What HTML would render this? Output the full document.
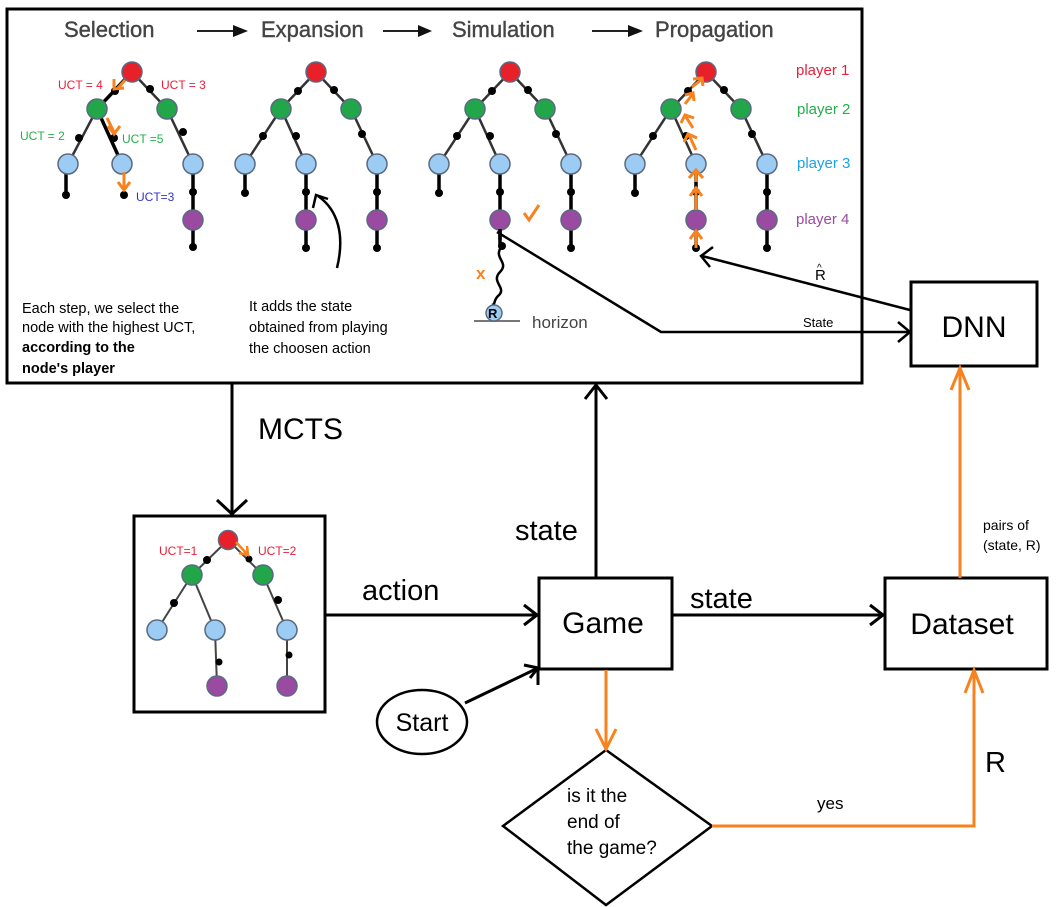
<!DOCTYPE html>
<html><head><meta charset="utf-8"><style>
html,body{margin:0;padding:0;background:#fff;}
svg{display:block;font-family:"Liberation Sans",Arial,sans-serif;}
</style></head><body>
<svg width="1058" height="907" viewBox="0 0 1058 907" xmlns="http://www.w3.org/2000/svg">
<defs>
<g id="edges" stroke="#333" stroke-width="2.5" fill="none">
<line x1="0" y1="0" x2="-35" y2="37"/><line x1="0" y1="0" x2="35" y2="37"/>
<line x1="-35" y1="37" x2="-71" y2="92"/><line x1="-35" y1="37" x2="-10" y2="92"/>
<line x1="35" y1="37" x2="61" y2="92"/>
</g>
<g id="tree">
<use href="#edges"/>
<g stroke="#000" stroke-width="3.5">
<line x1="-71" y1="92" x2="-71" y2="121"/>
<line x1="-10" y1="92" x2="-10" y2="176"/>
<line x1="61" y1="92" x2="61" y2="176"/>
</g>
<g fill="#000">
<circle cx="-18" cy="19" r="4"/><circle cx="18" cy="18" r="4"/>
<circle cx="-53" cy="64" r="4"/><circle cx="-20" cy="64" r="4"/><circle cx="46" cy="62" r="4"/>
<circle cx="-71" cy="121" r="4"/><circle cx="-10" cy="120" r="4"/><circle cx="61" cy="120" r="4"/>
<circle cx="-10" cy="176" r="4"/><circle cx="61" cy="176" r="4"/>
</g>
<g stroke="#5a6a80" stroke-width="1.5">
<circle cx="0" cy="0" r="10" fill="#e8202a"/>
<circle cx="-35" cy="37" r="10" fill="#22a64a"/><circle cx="35" cy="37" r="10" fill="#22a64a"/>
<circle cx="-71" cy="92" r="10" fill="#9ccbf3"/><circle cx="-10" cy="92" r="10" fill="#9ccbf3"/><circle cx="61" cy="92" r="10" fill="#9ccbf3"/>
<circle cx="-10" cy="148" r="10" fill="#9b4aa2"/><circle cx="61" cy="148" r="10" fill="#9b4aa2"/>
</g>
</g>
</defs>

<rect x="7" y="9" width="855" height="374" fill="none" stroke="#000" stroke-width="3"/>
<g font-size="22" fill="#444" stroke="#444" stroke-width="0.4">
<text x="64" y="37">Selection</text>
<text x="261" y="37">Expansion</text>
<text x="452" y="37">Simulation</text>
<text x="655" y="37">Propagation</text>
</g>
<g stroke="#222" stroke-width="2"><line x1="197" y1="31" x2="235" y2="31"/><line x1="383" y1="31" x2="420" y2="31"/><line x1="592" y1="31" x2="630" y2="31"/></g>
<g fill="#111"><polygon points="233,25 248,31 233,37"/><polygon points="418,25 432,31 418,37"/><polygon points="628,25 643,31 628,37"/></g>

<g transform="translate(132,72)">
<g stroke="#333" stroke-width="2.5"><line x1="0" y1="0" x2="35" y2="37"/><line x1="-35" y1="37" x2="-64" y2="92"/><line x1="35" y1="37" x2="61" y2="92"/></g>
<g stroke="#000" stroke-width="3.5"><line x1="0" y1="0" x2="-35" y2="37"/><line x1="-35" y1="37" x2="-10" y2="92"/><line x1="-66" y1="92" x2="-66" y2="123"/><line x1="61" y1="92" x2="61" y2="176"/></g>
<g fill="#000"><circle cx="-17" cy="19" r="4"/><circle cx="18" cy="17" r="4"/><circle cx="-53" cy="66" r="4"/><circle cx="-18" cy="66" r="4"/><circle cx="51" cy="60" r="4"/><circle cx="-66" cy="123" r="4"/><circle cx="-8" cy="123" r="4"/><circle cx="61" cy="120" r="4"/><circle cx="61" cy="175" r="4"/></g>
<g stroke="#5a6a80" stroke-width="1.5">
<circle cx="0" cy="0" r="10" fill="#e8202a"/><circle cx="-35" cy="37" r="10" fill="#22a64a"/><circle cx="35" cy="37" r="10" fill="#22a64a"/>
<circle cx="-64" cy="92" r="10" fill="#9ccbf3"/><circle cx="-10" cy="92" r="10" fill="#9ccbf3"/><circle cx="61" cy="92" r="10" fill="#9ccbf3"/>
<circle cx="61" cy="148" r="10" fill="#9b4aa2"/></g>
<g stroke="#f7821e" stroke-width="3" fill="none">
<path d="M-7,8 L-14,16 M-18,7 L-18,17 L-8,16"/>
<path d="M-25,46 L-18,60 M-24,54 L-18,62 L-12,54"/>
<path d="M-8,100 L-8,118 M-14,110 L-8,118 L-2,110"/>
</g>
</g>
<g font-size="12"><text x="58" y="89" fill="#e8203a">UCT = 4</text><text x="161" y="89" fill="#e8203a">UCT = 3</text>
<text x="20" y="140" fill="#22b04a">UCT = 2</text><text x="122" y="143" fill="#22b04a">UCT =5</text>
<text x="136" y="201" fill="#3333cc">UCT=3</text></g>

<use href="#tree" transform="translate(316,72)"/>
<path d="M337,268 C345,235 338,210 318,196" fill="none" stroke="#000" stroke-width="2.5"/>
<path d="M313,208 L316,195 L328,199" fill="none" stroke="#000" stroke-width="2.5"/>
<use href="#tree" transform="translate(510,72)"/>
<use href="#tree" transform="translate(706,72)"/>

<g fill="#fff"><rect x="490" y="240" width="20" height="12"/></g>
<line x1="500" y1="229" x2="500" y2="246" stroke="#000" stroke-width="3.5"/>
<circle cx="502" cy="246" r="4"/>
<path d="M502,246 C492,258 510,262 500,272 C490,282 508,288 498,296 C493,301 496,304 492,305" fill="none" stroke="#000" stroke-width="2.5"/>
<line x1="474" y1="321" x2="520" y2="321" stroke="#777" stroke-width="2"/>
<circle cx="494" cy="313" r="8" fill="#9ccbf3" stroke="#5a6a80" stroke-width="1.5"/>
<text x="488" y="318" font-size="13" font-weight="bold">R</text>
<text x="532" y="328" font-size="17" fill="#444">horizon</text>
<text x="476" y="279" font-size="17" fill="#f7821e" font-weight="bold">x</text>
<path d="M524,213 L529,220 L539,205" fill="none" stroke="#f7821e" stroke-width="3"/>
<g stroke="#f7821e" stroke-width="3" fill="none">
<path d="M696,248 L696,232 M690,239 L696,231 L702,239"/>
<path d="M696,210 L696,189 M690,196 L696,188 L702,196"/>
<path d="M696,182 L696,172 M689,178 L696,170 L703,178"/>
<path d="M696,150 L689,135 M684,142 L688,134 L697,138"/>
<path d="M693,128 L686,117 M681,123 L685,115 L694,118"/>
<path d="M685,104 L692,95 M685,95 L693,93 L694,101"/>
<path d="M692,87 L701,80 M693,79 L702,78 L703,86"/>
</g>

<g font-size="15"><text x="796" y="75" fill="#e8203a">player 1</text><text x="797" y="114" fill="#22b04a">player 2</text>
<text x="797" y="168" fill="#1aa3e8">player 3</text><text x="796" y="224" fill="#9b4aa2">player 4</text></g>

<g font-size="14.5" fill="#000">
<text x="22" y="313">Each step, we select the</text>
<text x="22" y="332">node with the highest UCT,</text>
<text x="22" y="352" font-weight="bold">according to the</text>
<text x="22" y="373" font-weight="bold">node's player</text>
<text x="249" y="311">It adds the state</text>
<text x="249" y="332">obtained from playing</text>
<text x="249" y="353">the choosen action</text>
</g>

<g stroke="#000" stroke-width="2.5" fill="none">
<polyline points="497,232 661,332 910,332"/>
<path d="M898,322 L910,332 L898,342"/>
<line x1="910" y1="310" x2="702" y2="256"/>
<path d="M713,247 L701,256 L710,267"/>
</g>
<text x="803" y="327" font-size="13">State</text>
<text x="815" y="280" font-size="15">R</text><text x="817" y="271" font-size="10">^</text>

<rect x="911" y="282" width="126" height="84" fill="none" stroke="#000" stroke-width="3"/>
<text x="974" y="337" font-size="30" text-anchor="middle">DNN</text>

<g stroke="#000" stroke-width="3" fill="none">
<line x1="232" y1="384" x2="232" y2="514"/><path d="M217,500 L232,514 L247,500"/>
<line x1="596" y1="577" x2="596" y2="385"/><path d="M585,399 L596,385 L607,399"/>
<line x1="325" y1="615" x2="537" y2="615"/><path d="M524,605 L537,615 L524,625"/>
<line x1="672" y1="615" x2="883" y2="615"/><path d="M870,605 L883,615 L870,625"/>
<line x1="465" y1="703" x2="538" y2="668"/><path d="M524,665 L538,668 L530,678"/>
<line x1="538" y1="668" x2="538" y2="685"/>
</g>
<text x="258" y="439" font-size="30">MCTS</text>
<text x="515" y="540" font-size="29">state</text>
<text x="362" y="600" font-size="29">action</text>
<text x="690" y="608" font-size="29">state</text>

<rect x="134" y="516" width="191" height="196" fill="none" stroke="#000" stroke-width="3"/>
<g transform="translate(228,540)">
<g stroke="#444" stroke-width="2"><line x1="0" y1="0" x2="-36" y2="35"/><line x1="0" y1="0" x2="35" y2="35"/><line x1="-36" y1="35" x2="-71" y2="90"/><line x1="-36" y1="35" x2="-13" y2="90"/><line x1="35" y1="35" x2="59" y2="90"/><line x1="-13" y1="90" x2="-11" y2="146"/><line x1="59" y1="90" x2="59" y2="146"/></g>
<g fill="#000"><circle cx="-21" cy="20" r="4"/><circle cx="21" cy="19" r="3.5"/><circle cx="-54" cy="63" r="4"/><circle cx="50" cy="60" r="4"/><circle cx="-9" cy="122" r="3.5"/><circle cx="61" cy="115" r="3.5"/></g>
<g stroke="#5a6a80" stroke-width="1.5">
<circle cx="0" cy="0" r="9.5" fill="#e8202a"/><circle cx="-36" cy="35" r="10" fill="#22a64a"/><circle cx="35" cy="35" r="10" fill="#22a64a"/>
<circle cx="-71" cy="90" r="10" fill="#9ccbf3"/><circle cx="-13" cy="90" r="10" fill="#9ccbf3"/><circle cx="59" cy="90" r="10" fill="#9ccbf3"/>
<circle cx="-11" cy="146" r="10" fill="#9b4aa2"/><circle cx="59" cy="146" r="10" fill="#9b4aa2"/></g>
<path d="M8,2 L19,14 M11,13 L20,15 L19,6" stroke="#f7821e" stroke-width="2.5" fill="none"/>
</g>
<g font-size="12" fill="#e8203a"><text x="159" y="555">UCT=1</text><text x="258" y="555">UCT=2</text></g>

<rect x="539" y="578" width="133" height="91" fill="none" stroke="#000" stroke-width="3"/>
<text x="603" y="633" font-size="30" text-anchor="middle">Game</text>
<rect x="885" y="578" width="162" height="91" fill="none" stroke="#000" stroke-width="3"/>
<text x="962" y="634" font-size="30" text-anchor="middle">Dataset</text>
<ellipse cx="422" cy="722" rx="45" ry="32" fill="none" stroke="#000" stroke-width="2.5"/>
<text x="422" y="731" font-size="25" text-anchor="middle">Start</text>
<polygon points="606,750 712,826 606,905 503,826" fill="none" stroke="#000" stroke-width="2.5"/>
<g font-size="19"><text x="567" y="802">is it the</text><text x="567" y="828">end of</text><text x="567" y="854">the game?</text></g>

<g stroke="#f7821e" stroke-width="3" fill="none">
<line x1="606" y1="670" x2="606" y2="749"/><path d="M596,729 L606,749 L616,729"/>
<polyline points="712,826 974,826 974,670"/><path d="M965,693 L974,670 L983,693"/>
<line x1="960" y1="578" x2="960" y2="368"/><path d="M951,390 L960,368 L969,390"/>
</g>
<text x="817" y="809" font-size="17">yes</text>
<text x="985" y="772" font-size="29">R</text>
<g font-size="14"><text x="983" y="530">pairs of</text><text x="983" y="550">(state, R)</text></g>
</svg>
</body></html>
